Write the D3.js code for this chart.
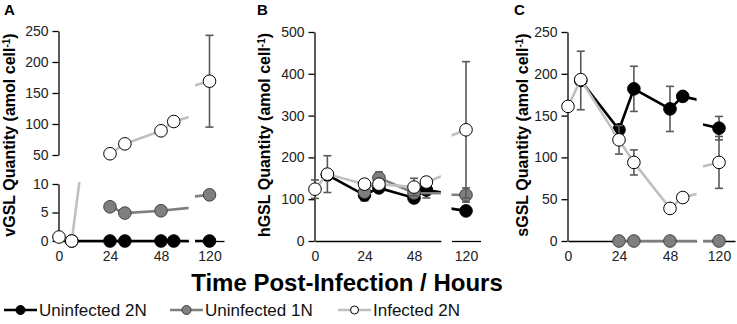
<!DOCTYPE html>
<html>
<head>
<meta charset="utf-8">
<script src="https://cdn.jsdelivr.net/npm/d3@7"></script>
<style>
  body { margin: 0; background: #fff; }
  text { font-family: "Liberation Sans", Arial, sans-serif; }
</style>
</head>
<body>
<script>
// time points (hours post-infection)
const times = [0, 6, 24, 31, 48, 54, 120]
const seriesNames = ["Uninfected 2N", "Uninfected 1N", "Infected 2N"]

// A - vGSL
const vgslUninf2N = [null, 0, 0, 0, 0, 0, 0]
const vgslUninf1N = [null, null, 6.0, 4.9, 5.3, null, 8.1]
const vgslInf2N = [0.7, 0, 52, 68, 89, 104, 169]
const vgslInf2NErr = [0, 0, 0, 0, 0, 0, 74]

// B - hGSL
const hgslUninf2N = [null, 158, 110, 127, 103, 122, 72]
const hgslUninf2NErr = [0, 0, 14, 0, 0, 19, 0]
const hgslUninf1N = [null, null, 117, 151, 115, null, 110]
const hgslUninf1NErr = [0, 0, 0, 14, 0, 0, 17]
const hgslInf2N = [124, 160, 136, 136, 129, 141, 266]
const hgslInf2NErr = [22, 44, 0, 0, 21, 0, 163]

// C - sGSL
const sgslUninf2N = [null, 192, 133, 182, 158, 173, 135]
const sgslUninf2NErr = [0, 35, 0, 27, 27, 0, 14]
const sgslUninf1N = [null, null, 0, 0, 0, null, 0]
const sgslInf2N = [161, 193, 121, 94, 39, 52, 94]
const sgslInf2NErr = [0, 0, 17, 15, 0, 0, 31]

const xTicksLeft = [0, 24, 48]
const xTicksRight = [120]

const styles = [
  {line: "#000", fill: "#000", stroke: "#000"},
  {line: "#7f7f7f", fill: "#7f7f7f", stroke: "#404040"},
  {line: "#c0c0c0", fill: "#fff", stroke: "#000"}
]

const panels = [
  {letter: "A", name: "vGSL", x0: 59, pph: 2.125, leftEnd: 61, c120: 209.5, hw: 14.5, titleX: 15, letterX: 4,
    ySections: [
      {domain: [50, 250], range: [155, 31], ticks: [50, 100, 150, 200, 250]},
      {domain: [0, 10], range: [241, 184], ticks: [0, 5, 10]}],
    series: [[vgslUninf2N], [vgslUninf1N], [vgslInf2N, vgslInf2NErr]]},
  {letter: "B", name: "hGSL", x0: 315, pph: 2.0625, leftEnd: 61, c120: 466, hw: 14.5, titleX: 270, letterX: 257,
    ySections: [{domain: [0, 500], range: [241, 32], ticks: [0, 100, 200, 300, 400, 500]}],
    series: [[hgslUninf2N, hgslUninf2NErr], [hgslUninf1N, hgslUninf1NErr], [hgslInf2N, hgslInf2NErr]]},
  {letter: "C", name: "sGSL", x0: 568, pph: 2.125, leftEnd: 60.5, c120: 719, hw: 16, titleX: 528, letterX: 514,
    ySections: [{domain: [0, 250], range: [241, 32], ticks: [0, 50, 100, 150, 200, 250]}],
    series: [[sgslUninf2N, sgslUninf2NErr], [sgslUninf1N], [sgslInf2N, sgslInf2NErr]]}
]

const svg = d3.select("body").append("svg")
  .attr("width", 737)
  .attr("height", 324)

let clipId = 0

panels.forEach(p => {
  const xSections = [
    {scale: d3.scaleLinear([0, p.leftEnd], [p.x0, p.x0 + p.leftEnd * p.pph]), ticks: xTicksLeft},
    {scale: d3.scaleLinear([120 - p.hw / p.pph, 120 + p.hw / p.pph], [p.c120 - p.hw, p.c120 + p.hw]), ticks: xTicksRight}
  ]
  const g = svg.append("g")

  p.ySections.forEach((ys, yi) => {
    const y = d3.scaleLinear(ys.domain, ys.range)

    // y axis
    g.append("g")
      .attr("transform", `translate(${p.x0 - 0.5},0)`)
      .call(d3.axisLeft(y).tickValues(ys.ticks).tickSize(6).tickSizeOuter(0).tickPadding(4))
      .call(a => a.selectAll("path, line").attr("stroke", "#000").attr("stroke-width", 1.3))
      .call(a => a.selectAll("text").attr("font-size", 14).attr("fill", "#222")
        .attr("font-family", "Liberation Sans, Arial, sans-serif"))

    xSections.forEach(xs => {
      const x = xs.scale
      const [xa, xb] = x.range()
      const id = "clip" + (clipId++)
      g.append("clipPath").attr("id", id)
        .append("rect")
        .attr("x", xa).attr("width", xb - xa)
        .attr("y", ys.range[1] - 2).attr("height", ys.range[0] - ys.range[1] + 4)

      // x axis only on the bottom section
      if (yi === p.ySections.length - 1) {
        g.append("g")
          .attr("transform", `translate(0,${ys.range[0]})`)
          .call(d3.axisBottom(x).tickValues(xs.ticks).tickSize(0).tickPadding(10).tickSizeOuter(0))
          .call(a => a.select(".domain").attr("stroke", "#000").attr("stroke-width", 1.3))
          .call(a => a.selectAll("text").attr("font-size", 14).attr("fill", "#222")
            .attr("font-family", "Liberation Sans, Arial, sans-serif"))
      }

      const [d0, d1] = x.domain()
      p.series.forEach(([vals, errs], si) => {
        const st = styles[si]
        const pts = times.map((t, i) => ({t, v: vals[i], e: errs ? errs[i] : 0}))
          .filter(d => d.v !== null)
        const shown = pts.filter(d => d.t >= d0 && d.t <= d1 && d.v >= ys.domain[0] && d.v <= ys.domain[1])

        // error bars
        const eb = g.append("g").attr("stroke", "#595959").attr("stroke-width", 1.6)
        shown.filter(d => d.e > 0).forEach(d => {
          const cx = x(d.t)
          const lo = Math.max(d.v - d.e, ys.domain[0]), hi = Math.min(d.v + d.e, ys.domain[1])
          eb.append("line").attr("x1", cx).attr("x2", cx).attr("y1", y(lo)).attr("y2", y(hi))
          eb.append("line").attr("x1", cx - 4).attr("x2", cx + 4).attr("y1", y(lo)).attr("y2", y(lo))
          eb.append("line").attr("x1", cx - 4).attr("x2", cx + 4).attr("y1", y(hi)).attr("y2", y(hi))
        })

        const line = d3.line().x(d => x(d.t)).y(d => y(d.v))
        g.append("path")
          .attr("clip-path", `url(#${id})`)
          .attr("d", line(pts))
          .attr("fill", "none")
          .attr("stroke", st.line)
          .attr("stroke-width", 2.6)

        g.append("g").selectAll("circle")
          .data(shown)
          .join("circle")
          .attr("cx", d => x(d.t))
          .attr("cy", d => y(d.v))
          .attr("r", 6.3)
          .attr("fill", st.fill)
          .attr("stroke", st.stroke)
          .attr("stroke-width", 1)
      })
    })
  })

  // panel letter
  svg.append("text")
    .attr("x", p.letterX).attr("y", 15)
    .attr("font-size", 15).attr("font-weight", "bold")
    .text(p.letter)

  // y title
  const yt = svg.append("text")
    .attr("transform", `translate(${p.titleX},135) rotate(-90)`)
    .attr("text-anchor", "middle")
    .attr("font-size", 16).attr("font-weight", "bold")
  yt.append("tspan").text(p.name + " Quantity (amol cell")
  yt.append("tspan").attr("dy", -5).attr("font-size", 10).text("-1")
  yt.append("tspan").attr("dy", 5).text(")")
})

// x title
svg.append("text")
  .attr("x", 347).attr("y", 291)
  .attr("text-anchor", "middle")
  .attr("font-size", 24).attr("font-weight", "bold")
  .text("Time Post-Infection / Hours")

// legend
const legendX = [4, 170, 338]
const legend = svg.append("g").attr("transform", "translate(0,310)")
seriesNames.forEach((name, i) => {
  const st = styles[i]
  const lg = legend.append("g").attr("transform", `translate(${legendX[i]},0)`)
  lg.append("line").attr("x1", 0).attr("x2", 33).attr("stroke", st.line).attr("stroke-width", 2.6)
  lg.append("circle").attr("cx", 16.5).attr("r", i === 2 ? 4 : 4.5)
    .attr("fill", st.fill).attr("stroke", st.stroke).attr("stroke-width", 1)
  lg.append("text").attr("x", 35).attr("y", 6).attr("font-size", 17).attr("fill", "#111").text(name)
})
</script>
</body>
</html>
